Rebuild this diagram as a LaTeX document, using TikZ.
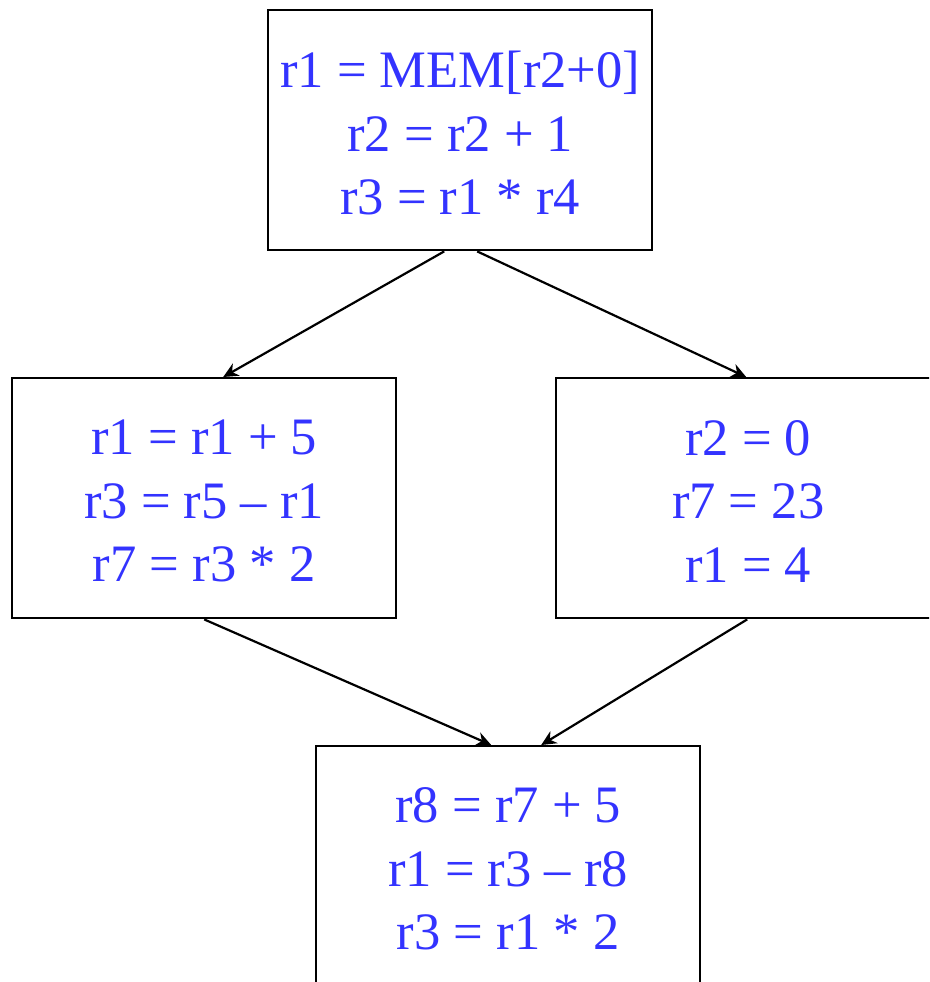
\documentclass[tikz,border=0pt]{standalone}
\usepackage{fontspec}
\setmainfont{Liberation Serif}
\usetikzlibrary{arrows.meta,calc}
\definecolor{codeblue}{RGB}{51,51,255}
\begin{document}
\begin{tikzpicture}[x=1pt,y=-1pt,
  block/.style={draw=black,line width=2.4pt,minimum width=384pt,minimum height=240pt,
    inner sep=0pt,anchor=north west},
  code/.style={inner sep=0pt,align=center,text=codeblue,font=\fontsize{52.6}{63.5}\selectfont},
  arr/.style={draw=black,line width=2.2pt,-{Stealth[length=15pt,width=14pt]}}]
\useasboundingbox (0,0) rectangle (929,982);
\clip (0,0) rectangle (929,982);
\node[block] (top) at (267,9) {};
\node[block] (left) at (11,377) {};
\node[block] (right) at (555,377) {};
\node[block] (bot) at (315,745) {};
\node[code] (toptxt) at ([yshift=-3pt]top.center) {r1 = MEM[r2+0]\\r2 = r2 + 1\\r3 = r1 * r4};
\node[code] (lefttxt) at ([yshift=-3pt]left.center) {r1 = r1 + 5\\r3 = r5 – r1\\r7 = r3 * 2};
\node[code] (righttxt) at ([yshift=-3pt]right.center) {r2 = 0\\r7 = 23\\r1 = 4};
\node[code] (bottxt) at ([yshift=-3pt]bot.center) {r8 = r7 + 5\\r1 = r3 – r8\\r3 = r1 * 2};
\draw[arr] ([xshift=-16pt]top.south) -- ([xshift=19pt]left.north);
\draw[arr] ([xshift=17pt]top.south) -- ([xshift=-2pt]right.north);
\draw[arr] (left.south) -- ([xshift=-17pt]bot.north);
\draw[arr] ([xshift=-1pt]right.south) -- ([xshift=33pt]bot.north);
\end{tikzpicture}
\end{document}
